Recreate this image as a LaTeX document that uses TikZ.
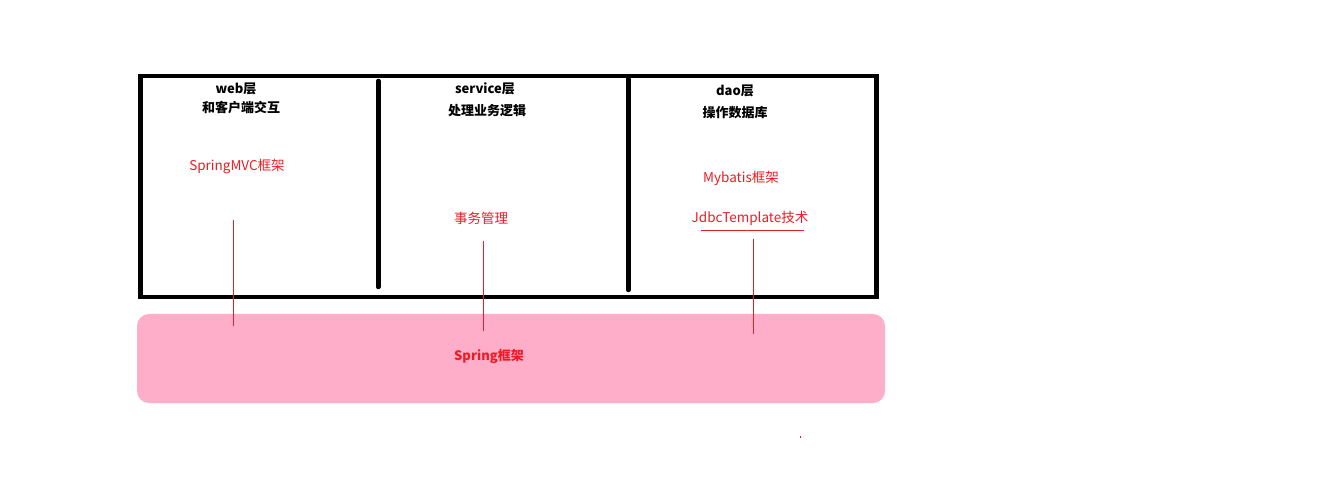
\documentclass[tikz,border=0pt]{standalone}
\usepackage{fontspec}
\setmainfont{Noto Sans CJK SC}
\usetikzlibrary{positioning}
\definecolor{springpink}{HTML}{FFAEC9}
\definecolor{techred}{HTML}{ED1C24}
\tikzset{
  layer/.style   = {font=\bfseries\fontsize{13}{15}\selectfont, inner sep=0pt},
  tech/.style    = {text=techred, font=\fontsize{13.5}{16}\selectfont, inner sep=0pt},
  frame/.style   = {line width=4.5pt},
  divider/.style = {line width=4.5pt, line cap=round},
  link/.style    = {techred, line width=0.7pt},
}

\begin{document}
\begin{tikzpicture}[x=1pt, y=-1pt]
        \useasboundingbox (0,0) rectangle (1319,502);
        \node[fill=springpink, rounded corners=12pt, minimum width=748pt, minimum height=89pt, inner sep=0pt] (spring) at (511,358.5) {};
        \node[layer, text=techred] (springtxt) at (489,356) {Spring框架};
        \draw[frame] (140.5,76) rectangle (876.5,297);
        \draw[divider] (378.3,81) -- (378.3,287);
        \draw[divider] (628.3,79) -- (628.3,290);
        \node[layer] (web)     at (236,89)  {web层};
        \node[layer] (webdesc) at (241,108) {和客户端交互};
        \node[layer] (svc)     at (485,89)  {service层};
        \node[layer] (svcdesc) at (487,111) {处理业务逻辑};
        \node[layer] (dao)     at (735,91)  {dao层};
        \node[layer] (daodesc) at (735,113) {操作数据库};
        \node[tech] (mvc)     at (237,167) {SpringMVC框架};
        \node[tech] (tx)      at (481,218) {事务管理};
        \node[tech] (mybatis) at (741,178) {Mybatis框架};
        \node[tech] (jdbc)    at (750,218) {JdbcTemplate技术};
        \draw[link] (701,230) -- (804,230);
        \coordinate (mvctop) at (233,220);
        \coordinate (mvcend) at (233,326);
        \coordinate (txtop)  at (483,241);
        \coordinate (txend)  at (483,331);
        \coordinate (daotop) at (753,239);
        \coordinate (daoend) at (753,334);
        \draw[link] (mvctop) -- (mvcend);
        \draw[link] (txtop) -- (txend);
        \draw[link] (daotop) -- (daoend);
        \fill[techred] (799.5,435.5) rectangle (800.5,437.5);
\end{tikzpicture}
\end{document}
